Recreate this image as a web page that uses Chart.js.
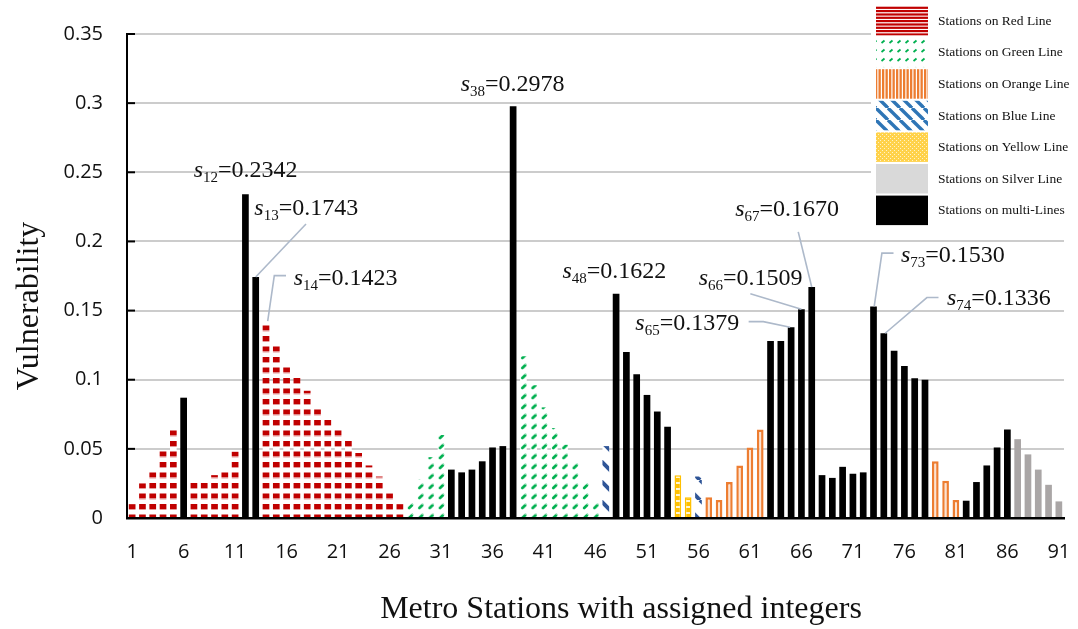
<!DOCTYPE html>
<html><head><meta charset="utf-8">
<script src="https://cdn.jsdelivr.net/npm/chart.js@4.4.1/dist/chart.umd.min.js"></script>
<style>html,body{margin:0;padding:0;background:#fff}#wrap{width:1078px;height:629px;position:relative}</style>
</head><body><div id="wrap"><canvas id="c"></canvas></div>
<script>
// ---------- DATA ----------
const stationLabels = ['1','2','3','4','5','6','7','8','9','10','11','12','13','14','15','16','17','18','19','20',
 '21','22','23','24','25','26','27','28','29','30','31','32','33','34','35','36','37','38','39','40',
 '41','42','43','44','45','46','47','48','49','50','51','52','53','54','55','56','57','58','59','60',
 '61','62','63','64','65','66','67','68','69','70','71','72','73','74','75','76','77','78','79','80',
 '81','82','83','84','85','86','87','88','89','90','91'];
const vulnerability = [
 0.010,0.025,0.034,0.049,0.064,0.087,0.026,0.026,0.031,0.034,
 0.048,0.2342,0.1743,0.1423,0.127,0.111,0.102,0.092,0.080,0.072,
 0.064,0.056,0.047,0.038,0.030,0.018,0.010,0.013,0.028,0.044,
 0.060,0.035,0.033,0.035,0.041,0.051,0.052,0.2978,0.117,0.096,
 0.080,0.065,0.053,0.040,0.026,0.013,0.052,0.1622,0.120,0.104,
 0.089,0.077,0.066,0.031,0.015,0.030,0.015,0.013,0.026,0.038,
 0.051,0.064,0.128,0.128,0.1379,0.1509,0.1670,0.031,0.029,0.037,
 0.032,0.033,0.1530,0.1336,0.121,0.110,0.101,0.100,0.041,0.027,
 0.013,0.0125,0.026,0.038,0.051,0.064,0.057,0.046,0.035,0.024,0.012];
// R=Red, G=Green, O=Orange, B=Blue, Y=Yellow, S=Silver, M=multi-lines
const stationLine = [
 'R','R','R','R','R','M','R','R','R','R',
 'R','M','M','R','R','R','R','R','R','R',
 'R','R','R','R','R','R','R','G','G','G',
 'G','M','M','M','M','M','M','M','G','G',
 'G','G','G','G','G','G','B','M','M','M',
 'M','M','M','Y','Y','B','O','O','O','O',
 'O','O','M','M','M','M','M','M','M','M',
 'M','M','M','M','M','M','M','M','O','O',
 'O','M','M','M','M','M','S','S','S','S','S'];
const lineCodes = ['R','G','O','B','Y','S','M'];
const lineNames = ['Stations on Red Line','Stations on Green Line','Stations on Orange Line','Stations on Blue Line',
 'Stations on Yellow Line','Stations on Silver Line','Stations on multi-Lines'];
const yTicks = [0,0.05,0.1,0.15,0.2,0.25,0.3,0.35];
const annotatedStations = [12,13,14,38,48,65,66,67,73,74];
const xTitle = 'Metro Stations with assigned integers';
const yTitle = 'Vulnerability';

// ---------- LAYOUT (pixel offsets of labels from bar tops) ----------
const annLayout = {
 12:{dx:-51.7,dy:-17.6,lead:null},
 13:{dx:-1.4,dy:-62.1,lead:[[50.3,-53],[0,0]]},
 14:{dx:27.7,dy:-36.3,lead:[[20,-45.6],[8.3,-45.6],[1.7,0]]},
 38:{dx:-52.5,dy:-15.4,lead:null},
 48:{dx:-53.6,dy:-15.8,lead:null},
 65:{dx:-155.8,dy:2.6,lead:[[-42.5,-5.7],[-27.8,-5.7],[-1,0]]},
 66:{dx:-102.8,dy:-24.5,lead:[[-51.1,-15.5],[0,0]]},
 67:{dx:-76.5,dy:-71.2,lead:[[-13.5,-55.2],[0,0]]},
 73:{dx:27.4,dy:-44.9,lead:[[20,-53.3],[8.4,-53.3],[0.7,0]]},
 74:{dx:63.1,dy:-28.4,lead:[[54.7,-35.7],[43.1,-35.7],[1.4,0]]}
};

const mainCtx = document.getElementById('c').getContext('2d');
function makePattern(w,h,draw){
  const c=document.createElement('canvas'); c.width=w; c.height=h;
  const g=c.getContext('2d'); draw(g,w,h);
  return mainCtx.createPattern(c,'repeat');
}
// bar patterns
const redBar = makePattern(4,21,(g)=>{g.fillStyle='#fff';g.fillRect(0,0,4,21);
  g.fillStyle='#c00000';g.fillRect(0,0,4,5);g.fillRect(0,10.5,4,5);
  g.fillStyle='#e59a9a';g.fillRect(0,5,4,1);g.fillRect(0,15.5,4,1);});
const greenBar = makePattern(10,10,(g)=>{g.fillStyle='#fff';g.fillRect(0,0,10,10);
  g.strokeStyle='#00b050';g.lineWidth=2.6;g.lineCap='round';g.beginPath();g.moveTo(2.2,8);g.lineTo(5.2,5);g.stroke();
  g.strokeStyle='#8fdcb2';g.lineWidth=1;g.beginPath();g.moveTo(5,4.5);g.lineTo(7,4.5);g.stroke();});
const blueBar = makePattern(20,20,(g)=>{g.fillStyle='#fff';g.fillRect(0,0,20,20);
  g.strokeStyle='#2f5597';g.lineWidth=4;
  for(const x0 of [-20,0,20]){g.beginPath();g.moveTo(x0,0);g.lineTo(x0+20,20);g.stroke();}});
const yellowBar = makePattern(2,6,(g)=>{g.fillStyle='#ffc000';g.fillRect(0,0,2,6);
  g.fillStyle='#fff6d5';g.fillRect(0,2,2,2);});
// legend patterns
const redLeg = makePattern(4,10,(g)=>{g.fillStyle='#fff';g.fillRect(0,0,4,10);
  g.fillStyle='#c00000';g.fillRect(0,0,4,2.2);g.fillRect(0,3.4,4,2.2);g.fillRect(0,6.7,4,2.2);});
const greenLeg = makePattern(8,9,(g)=>{g.fillStyle='#fff';g.fillRect(0,0,8,9);
  g.strokeStyle='#00b050';g.lineWidth=1.8;g.beginPath();g.moveTo(1.5,7);g.lineTo(4.5,4.5);g.stroke();});
const orangeLeg = makePattern(7,4,(g)=>{g.fillStyle='#fff';g.fillRect(0,0,7,4);
  g.fillStyle='#ed7d31';g.fillRect(0,0,2.3,4);g.fillRect(3.5,0,2.3,4);});
const blueLeg = makePattern(12,12,(g)=>{g.fillStyle='#fff';g.fillRect(0,0,12,12);
  g.strokeStyle='#2e75b6';g.lineWidth=3.4;
  for(const x0 of [-12,0,12]){g.beginPath();g.moveTo(x0,0);g.lineTo(x0+12,12);g.stroke();}});
const yellowLeg = makePattern(4,4,(g)=>{g.fillStyle='#ffd24a';g.fillRect(0,0,4,4);
  g.fillStyle='rgba(255,255,255,0.7)';g.fillRect(0,0,1,1);g.fillRect(2,2,1,1);});

const barStyles = {
  R:{backgroundColor:redBar,borderWidth:0},
  G:{backgroundColor:greenBar,borderWidth:0},
  O:{backgroundColor:'#fbe3d3',borderColor:'#ed7d31',borderWidth:2.5},
  B:{backgroundColor:blueBar,borderWidth:0},
  Y:{backgroundColor:yellowBar,borderColor:'#ffc000',borderWidth:1.5},
  S:{backgroundColor:'#aaa6a6',borderWidth:0},
  M:{backgroundColor:'#000000',borderWidth:0}
};
const legendFills = [redLeg,greenLeg,orangeLeg,blueLeg,yellowLeg,'#d9d9d9','#000000'];
const BAR_PCT = 0.65;

const datasets = lineCodes.map((code,k)=>Object.assign({
  label: lineNames[k],
  data: vulnerability.map((v,i)=> stationLine[i]===code ? v : null),
  grouped:false,
  barPercentage:BAR_PCT,
  categoryPercentage:1.0,
  borderSkipped:'bottom'
}, barStyles[code]));

const extrasPlugin = {
  id:'extras',
  beforeDatasetsDraw(chart){
    const xs=chart.scales.x;
    const sp=xs.getPixelForValue(1)-xs.getPixelForValue(0);
    const x0=xs.getPixelForValue(0)-sp*BAR_PCT/2;
    if(greenBar.setTransform) greenBar.setTransform(new DOMMatrix().translate(x0,0).scale(sp/10,1));
  },
  afterDatasetsDraw(chart){
    const ctx=chart.ctx, xs=chart.scales.x, ys=chart.scales.y;
    ctx.save(); ctx.strokeStyle='#000'; ctx.lineWidth=2;
    yTicks.forEach(t=>{const y=ys.getPixelForValue(t); ctx.beginPath(); ctx.moveTo(chart.chartArea.left,y); ctx.lineTo(chart.chartArea.left+8,y); ctx.stroke();});
    ctx.restore();
    ctx.save();
    annotatedStations.forEach(st=>{
      const i=st-1, v=vulnerability[i];
      const bx=xs.getPixelForValue(i), by=ys.getPixelForValue(v);
      const L=annLayout[st];
      if(L.lead){
        ctx.strokeStyle='#adb9ca'; ctx.lineWidth=1.6; ctx.beginPath();
        L.lead.forEach((p,j)=>{ if(j===0) ctx.moveTo(bx+p[0],by+p[1]); else ctx.lineTo(bx+p[0],by+p[1]); });
        ctx.stroke();
      }
      let x=bx+L.dx, y=by+L.dy;
      ctx.fillStyle='#111'; ctx.textBaseline='alphabetic'; ctx.textAlign='left';
      ctx.font='italic 24px "Liberation Serif"'; ctx.fillText('s',x,y); x+=ctx.measureText('s').width;
      ctx.font='15px "Liberation Serif"'; ctx.fillText(String(st),x,y+5); x+=ctx.measureText(String(st)).width;
      ctx.font='24px "Liberation Serif"'; ctx.fillText('='+v.toFixed(4),x,y);
    });
    ctx.restore();
  },
  afterDraw(chart){
    const ctx=chart.ctx;
    ctx.save();
    // axis titles
    ctx.fillStyle='#111'; ctx.font='32px "Liberation Serif"'; ctx.textAlign='center'; ctx.textBaseline='middle';
    ctx.fillText(xTitle,621,610);
    ctx.save(); ctx.translate(30,306); ctx.rotate(-Math.PI/2); ctx.fillText(yTitle,0,0); ctx.restore();
    // legend
    ctx.fillStyle='#fff'; ctx.fillRect(871,0,207,228);
    const bx=876,bw=52,top=6,step=31.6,bh=29.5;
    chart.data.datasets.forEach((ds,k)=>{
      const y0=top+k*step;
      ctx.fillStyle=legendFills[k]; ctx.fillRect(bx,y0,bw,bh);
      ctx.fillStyle='#111'; ctx.font='13.5px "Liberation Serif"'; ctx.textBaseline='middle'; ctx.textAlign='left';
      ctx.fillText(ds.label,938,y0+bh/2+0.5);
    });
    ctx.restore();
  }
};

new Chart(document.getElementById('c'),{
  type:'bar',
  data:{labels:stationLabels,datasets},
  plugins:[extrasPlugin],
  options:{
    responsive:true, maintainAspectRatio:false, animation:false,
    layout:{padding:{top:34,right:14,left:0,bottom:0}},
    plugins:{legend:{display:false},tooltip:{enabled:false}},
    scales:{
      x:{
        afterFit(s){s.height=111; s.paddingLeft=0; s.paddingRight=0;},
        grid:{display:false,drawTicks:false},
        border:{display:true,color:'#000',width:2.5},
        ticks:{autoSkip:false,maxRotation:0,minRotation:0,padding:22,color:'#111',
          font:{family:'"Open Sans"',size:20},
          callback(v,i){return i%5===0 ? stationLabels[i] : '';}},
        title:{display:false}
      },
      y:{
        min:0,max:0.35,
        afterFit(s){s.width=127; s.paddingTop=0; s.paddingBottom=0;},
        afterBuildTicks(s){s.ticks=yTicks.map(v=>({value:v}));},
        grid:{color:'#cccccc',lineWidth:2,drawTicks:false},
        border:{display:true,color:'#000',width:2},
        ticks:{padding:24,color:'#111',font:{family:'"Open Sans"',size:20},
          callback(v){return String(Number(v.toFixed(2)));}},
        title:{display:false}
      }
    }
  }
});
</script></body></html>
